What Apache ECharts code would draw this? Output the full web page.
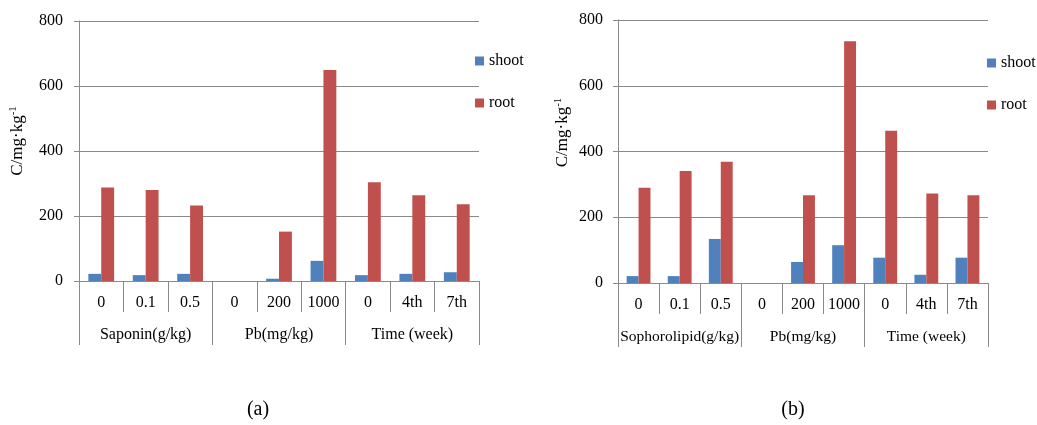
<!DOCTYPE html>
<html>
<head>
<meta charset="utf-8">
<script src="https://cdn.jsdelivr.net/npm/echarts@6/dist/echarts.min.js"></script>
<style>
  html, body { margin: 0; padding: 0; background: #fff; }
  #chart { width: 1037px; height: 425px; }
</style>
</head>
<body>
<div id="chart"></div>
<script>
// Treatment levels along the x axis (shared by both panels)
const categories = ['0', '0.1', '0.5', '0', '200', '1000', '0', '4th', '7th'];
// Group headings under the levels
const groupsA = ['Saponin(g/kg)', 'Pb(mg/kg)', 'Time (week)'];
const groupsB = ['Sophorolipid(g/kg)', 'Pb(mg/kg)', 'Time (week)'];
// Pb concentration, mg/kg  (panel a: saponin)
const shootA = [22, 18, 22, 0, 7, 62, 18, 22, 27];
const rootA  = [288, 280, 232, 0, 152, 649, 304, 264, 236];
// Pb concentration, mg/kg  (panel b: sophorolipid)
const shootB = [21, 21, 134, 0, 64, 115, 77, 25, 77];
const rootB  = [290, 341, 369, 0, 267, 735, 463, 272, 267];
const yTicks = [0, 200, 400, 600, 800];
const seriesNames = ['shoot', 'root'];

const FONT = '"Liberation Serif", "Times New Roman", serif';
const GRAY = '#8a8a8a';
const COLORS = ['#4F81BD', '#C0504D'];

const panels = [
  { grid: { left: 79, top: 21, width: 400, height: 260 }, groups: groupsA, groupFont: 16,
    shoot: shootA, root: rootA, legend: { left: 475, top: 53 },
    nameGap: 52, namePad: 20, labelMargin: 16, caption: { x: 258, y: 410, text: '(a)' } },
  { grid: { left: 618, top: 20, width: 370, height: 263 }, groups: groupsB, groupFont: 15.5,
    shoot: shootB, root: rootB, legend: { left: 987, top: 55 },
    nameGap: 46, namePad: 38, labelMargin: 15, caption: { x: 793, y: 410, text: '(b)' } }
];

const option = {
  animation: false,
  textStyle: { fontFamily: FONT, color: '#000' },
  color: COLORS,
  grid: [], xAxis: [], yAxis: [], series: [], legend: [], graphic: []
};

panels.forEach((p, i) => {
  option.grid.push(Object.assign({ containLabel: false }, p.grid));

  // level axis: ticks at every category boundary, extending below the plot
  option.xAxis.push({
    type: 'category', gridIndex: i, data: categories, position: 'bottom',
    axisLine: { show: true, lineStyle: { color: GRAY, width: 1 } },
    axisTick: { show: true, interval: 0, length: 31, lineStyle: { color: GRAY } },
    axisLabel: { interval: 0, margin: 14, fontSize: 16, fontFamily: FONT, color: '#000' },
    splitLine: { show: false }
  });
  // group axis: separators between the treatment groups
  option.xAxis.push({
    type: 'category', gridIndex: i, data: p.groups, position: 'bottom', offset: 31,
    axisLine: { show: false },
    axisTick: { show: true, interval: 0, length: 33, lineStyle: { color: GRAY } },
    axisLabel: { interval: 0, margin: 15, fontSize: p.groupFont, fontFamily: FONT, color: '#000' },
    splitLine: { show: false }
  });

  option.yAxis.push({
    type: 'value', gridIndex: i,
    min: yTicks[0], max: yTicks[yTicks.length - 1], interval: yTicks[1] - yTicks[0],
    axisLine: { show: true, lineStyle: { color: GRAY, width: 1 } },
    axisTick: { show: true, length: 5, lineStyle: { color: GRAY } },
    axisLabel: { margin: p.labelMargin, fontSize: 16, fontFamily: FONT, color: '#000' },
    splitLine: { show: true, lineStyle: { color: GRAY, width: 1 } },
    name: '{a|C/mg\u00b7kg}{s|-1}',
    nameLocation: 'middle', nameGap: p.nameGap, nameRotate: 90,
    nameTextStyle: {
      fontFamily: FONT, color: '#000', padding: [0, 0, 0, p.namePad],
      rich: {
        a: { fontSize: 17, fontFamily: FONT, color: '#000', lineHeight: 19 },
        s: { fontSize: 11, fontFamily: FONT, color: '#000', lineHeight: 19, verticalAlign: 'top' }
      }
    }
  });

  option.series.push({
    name: seriesNames[0], type: 'bar', xAxisIndex: i * 2, yAxisIndex: i,
    data: p.shoot, barGap: '0%', barCategoryGap: '42%',
    itemStyle: { color: COLORS[0] }
  });
  option.series.push({
    name: seriesNames[1], type: 'bar', xAxisIndex: i * 2, yAxisIndex: i,
    data: p.root, barGap: '0%', barCategoryGap: '42%',
    itemStyle: { color: COLORS[1] }
  });

  option.legend.push({
    data: seriesNames, orient: 'vertical', left: p.legend.left, top: p.legend.top,
    icon: 'rect', itemWidth: 9, itemHeight: 9, itemGap: 26, padding: 0,
    textStyle: { fontFamily: FONT, fontSize: 16, color: '#000' },
    selectedMode: false
  });

  option.graphic.push({
    type: 'text', x: p.caption.x, y: p.caption.y,
    style: { text: p.caption.text, font: '20px ' + FONT, fill: '#000',
             textAlign: 'center', textVerticalAlign: 'middle' }
  });
});

const chart = echarts.init(document.getElementById('chart'), null, { renderer: 'canvas' });
chart.setOption(option);
</script>
</body>
</html>
